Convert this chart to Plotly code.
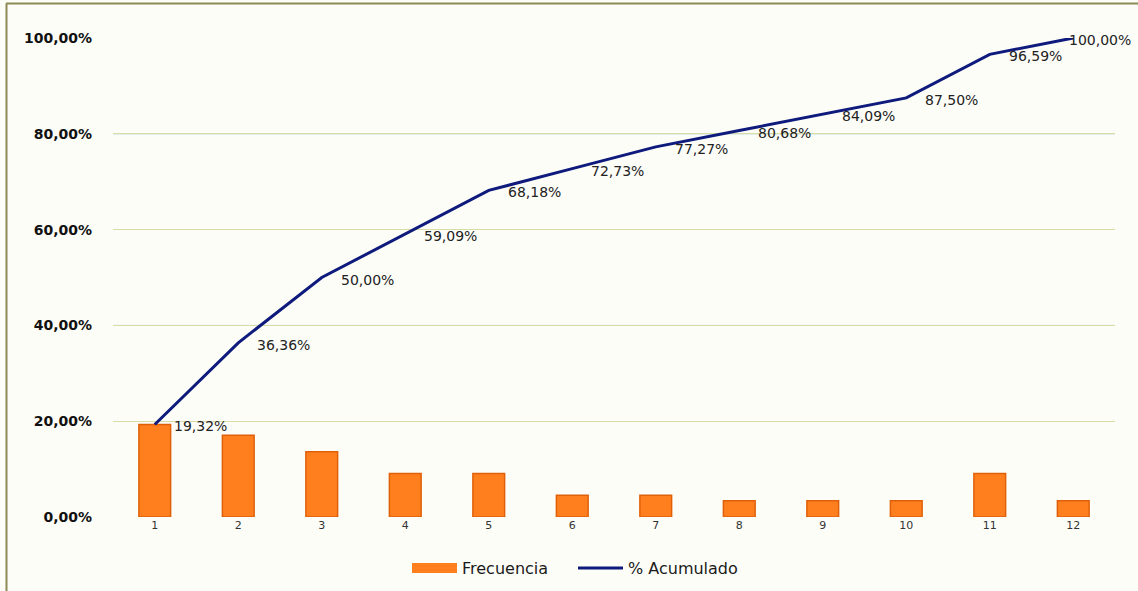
import plotly.graph_objects as go

categories = [1, 2, 3, 4, 5, 6, 7, 8, 9, 10, 11, 12]
frecuencia = [0.1932, 0.1705, 0.1364, 0.0909, 0.0909, 0.0455, 0.0455, 0.0341, 0.0341, 0.0341, 0.0909, 0.0341]
acumulado = [0.1932, 0.3636, 0.5000, 0.5909, 0.6818, 0.7273, 0.7727, 0.8068, 0.8409, 0.8750, 0.9659, 1.0000]
acum_labels = ["19,32%", "36,36%", "50,00%", "59,09%", "68,18%", "72,73%", "77,27%",
               "80,68%", "84,09%", "87,50%", "96,59%", "100,00%"]
y_ticks = [0, 0.2, 0.4, 0.6, 0.8, 1.0]

W, H = 1138, 591
L, R, T, B = 113, 23, 38, 74
BAR_FILL = "#FF7F1E"
BAR_EDGE = "#E0600A"

fig = go.Figure()
fig.add_trace(go.Bar(
    x=categories, y=frecuencia, name="Frecuencia", showlegend=False,
    width=0.38,
    marker=dict(color=BAR_FILL, line=dict(color=BAR_EDGE, width=1.5)),
))
# legend-only entry drawn as a wide orange block (like the original swatch)
fig.add_trace(go.Scatter(
    x=[None], y=[None], name="Frecuencia", mode="lines",
    line=dict(color=BAR_FILL, width=12), legendrank=1,
))
fig.add_trace(go.Scatter(
    x=categories, y=acumulado, name="% Acumulado", mode="lines",
    line=dict(color="#0E1A7C", width=3), legendrank=2,
))

for i, (c, v, t) in enumerate(zip(categories, acumulado, acum_labels)):
    last = i == len(categories) - 1
    fig.add_annotation(
        x=c, y=v, text=t, showarrow=False,
        xanchor="left", yanchor="middle",
        xshift=-6 if last else 17, yshift=-2,
        font=dict(family="DejaVu Sans", size=14, color="#222222"),
    )

# teal-tinted gridlines at 80% and 40%
for yv in (0.8, 0.4):
    fig.add_shape(type="line", xref="paper", yref="y", x0=0, x1=1, y0=yv, y1=yv,
                  line=dict(color="#9CCFC6", width=1), layer="between")

# frame lines (left and top)
PW, PH = W - L - R, H - T - B
fig.add_shape(type="line", xref="paper", yref="paper",
              x0=(6.5 - L) / PW, x1=(6.5 - L) / PW,
              y0=-(B + 5) / PH, y1=1 + (T - 3.5) / PH,
              line=dict(color="#8C8A55", width=2))
fig.add_shape(type="line", xref="paper", yref="paper",
              x0=(6 - L) / PW, x1=(W - L) / PW,
              y0=1 + (T - 3.5) / PH, y1=1 + (T - 3.5) / PH,
              line=dict(color="#8C8A55", width=2))

fig.update_layout(
    width=W, height=H,
    margin=dict(l=L, r=R, t=T, b=B, pad=0, autoexpand=False),
    paper_bgcolor="#FDFDF8", plot_bgcolor="#FDFDF8",
    separators=", ",
    showlegend=True,
    legend=dict(orientation="h", xref="container", yref="container",
                x=573 / W, xanchor="center",
                y=1 - 568 / H, yanchor="middle",
                itemwidth=45, entrywidth=106, tracegroupgap=0,
                font=dict(family="DejaVu Sans", size=16, color="#1A1A1A"),
                bgcolor="rgba(0,0,0,0)"),
    xaxis=dict(range=[0.5, 12.5], tickmode="array", tickvals=categories,
               ticktext=[str(c) for c in categories],
               showgrid=False, zeroline=False, showline=False, ticks="",
               tickfont=dict(family="DejaVu Sans", size=11, color="#333333")),
    yaxis=dict(range=[0, 1.0], tickmode="array", tickvals=y_ticks, tickformat=".2%",
               showgrid=True, gridcolor="#D9DCA6", gridwidth=1,
               zeroline=False, showline=False, ticks="",
               ticklabelstandoff=20,
               tickfont=dict(family="DejaVu Sans", size=14, color="#111111", weight="bold")),
)

fig.write_html("out.html")
